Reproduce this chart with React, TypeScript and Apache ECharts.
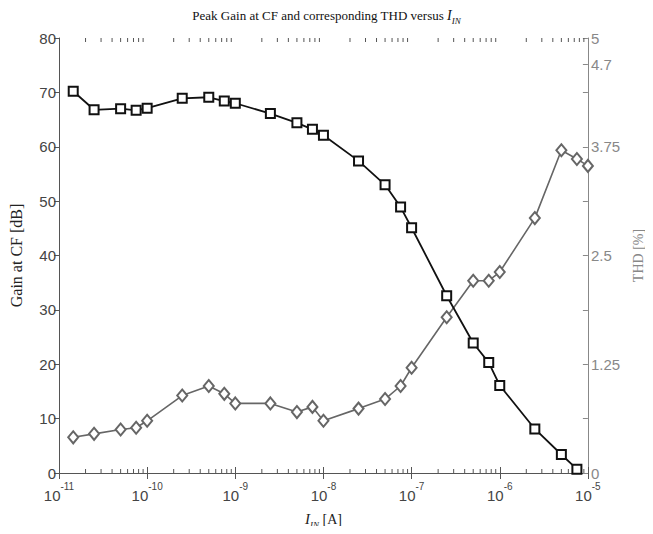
import React, { useEffect, useRef } from "react";
import * as echarts from "echarts";

// Input current I_IN [A]
const currentA = [
  1.45e-11, 2.5e-11, 5e-11, 7.5e-11, 1e-10, 2.5e-10, 5e-10, 7.5e-10, 1e-9, 2.5e-9, 5e-9, 7.5e-9,
  1e-8, 2.5e-8, 5e-8, 7.5e-8, 1e-7, 2.5e-7, 5e-7, 7.5e-7, 1e-6, 2.5e-6, 5e-6, 7.5e-6, 1e-5,
];
// Peak gain at CF [dB] (first 24 currents)
const gainDb = [
  70.2, 66.8, 67.0, 66.7, 67.1, 68.9, 69.1, 68.4, 68.0, 66.1, 64.4, 63.2,
  62.1, 57.4, 53.0, 48.9, 45.1, 32.6, 23.9, 20.3, 16.1, 8.1, 3.4, 0.7,
];
// THD [%]
const thdPct = [
  0.41, 0.45, 0.5, 0.52, 0.6, 0.89, 1.0, 0.91, 0.8, 0.8, 0.7, 0.76,
  0.6, 0.74, 0.85, 1.0, 1.21, 1.79, 2.21, 2.21, 2.31, 2.93, 3.71, 3.61, 3.53,
];
// x axis decades (exponents of 10)
const xDecades = [-11, -10, -9, -8, -7, -6, -5];
const minorMultipliers = [2, 3, 4, 5, 6, 7, 8, 9];
// right axis ticks / labels
const thdTickValues = [0, 0.625, 1.25, 1.875, 2.5, 3.125, 3.75, 4.375, 4.7, 5];
const thdLabelValues = [0, 1.25, 2.5, 3.75, 4.7, 5];

const SANS = "'Liberation Sans Narrow', 'Liberation Sans', Arial, sans-serif";
const SERIF = "'Liberation Serif', 'Times New Roman', serif";

export default function App() {
  const ref = useRef<HTMLDivElement>(null);
  useEffect(() => {
    if (!ref.current) return;
    const chart = echarts.init(ref.current, null, { renderer: "svg" });
    const minorTicks: number[][] = [];
    xDecades.slice(0, -1).forEach((d) => {
      minorMultipliers.forEach((m) => minorTicks.push([Math.log10(m * Math.pow(10, d)), 0]));
    });
    const xMin = xDecades[0];
    const xMax = xDecades[xDecades.length - 1];
    const axisGray = "#555";
    chart.setOption({
      animation: false,
      backgroundColor: "#fff",
      title: {
        left: "center",
        top: 0,
        text: "{n|Peak Gain at CF and corresponding THD versus }{i|I}{sub|IN}",
        textStyle: {
          fontFamily: SERIF,
          fontSize: 13,
          fontWeight: "normal",
          color: "#111",
          rich: {
            n: { fontFamily: SERIF, fontSize: 13, color: "#111", lineHeight: 20 },
            i: { fontFamily: SERIF, fontSize: 14, fontStyle: "italic", color: "#111", lineHeight: 20 },
            sub: {
              fontFamily: SERIF,
              fontSize: 9,
              fontStyle: "italic",
              color: "#111",
              lineHeight: 9,
              verticalAlign: "bottom",
            },
          },
        },
      },
      grid: { left: 52, right: 55, top: 38, bottom: 54, containLabel: false },
      xAxis: [
        {
          type: "value",
          min: xMin,
          max: xMax,
          interval: 1,
          position: "bottom",
          axisLine: { lineStyle: { color: axisGray, width: 1 } },
          axisTick: { inside: true, length: 6, lineStyle: { color: axisGray } },
          splitLine: { show: false },
          axisLabel: {
            margin: 8,
            formatter: (v: number) => `{b|10}{s|${v}}`,
            rich: {
              b: { fontFamily: SANS, fontSize: 15, color: "#444", lineHeight: 22, verticalAlign: "bottom" },
              s: { fontFamily: SANS, fontSize: 10, color: "#444", lineHeight: 12, verticalAlign: "top" },
            },
          },
          name: "{i|I}{sub|IN}{n| [A]}",
          nameLocation: "middle",
          nameGap: 36,
          nameTextStyle: {
            rich: {
              i: { fontFamily: SERIF, fontSize: 15, fontStyle: "italic", color: "#222", lineHeight: 20 },
              sub: {
                fontFamily: SERIF,
                fontSize: 9,
                fontStyle: "italic",
                color: "#222",
                lineHeight: 9,
                verticalAlign: "bottom",
              },
              n: { fontFamily: SERIF, fontSize: 14, color: "#222", lineHeight: 20 },
            },
          },
        },
        {
          type: "value",
          min: xMin,
          max: xMax,
          interval: 1,
          position: "top",
          axisLine: { lineStyle: { color: axisGray, width: 1 } },
          axisTick: { inside: true, length: 6, lineStyle: { color: axisGray } },
          axisLabel: { show: false },
          splitLine: { show: false },
        },
      ],
      yAxis: [
        {
          type: "value",
          min: 0,
          max: 80,
          interval: 10,
          position: "left",
          axisLine: { show: true, lineStyle: { color: axisGray, width: 1 } },
          axisTick: { show: true, inside: false, length: 5, lineStyle: { color: axisGray } },
          splitLine: { show: false },
          axisLabel: { fontFamily: SANS, fontSize: 15, color: "#444", margin: 3 },
          name: "Gain at CF [dB]",
          nameLocation: "middle",
          nameGap: 35,
          nameRotate: 90,
          nameTextStyle: { fontFamily: SERIF, fontSize: 16, color: "#222" },
        },
        {
          type: "value",
          min: 0,
          max: 5,
          position: "right",
          axisLine: { show: true, lineStyle: { color: "#888", width: 1 } },
          axisTick: {
            show: true,
            inside: true,
            length: 5,
            customValues: thdTickValues,
            lineStyle: { color: "#888" },
          },
          splitLine: { show: false },
          axisLabel: {
            fontFamily: SANS,
            fontSize: 15,
            color: "#888",
            margin: 3,
            customValues: thdLabelValues,
            formatter: (v: number) => String(v),
          },
          name: "THD [%]",
          nameLocation: "middle",
          nameGap: 41,
          nameRotate: 90,
          nameTextStyle: { fontFamily: SERIF, fontSize: 14, color: "#888" },
        },
      ],
      series: [
        {
          type: "custom",
          silent: true,
          xAxisIndex: 0,
          yAxisIndex: 0,
          clip: false,
          z: 1,
          data: minorTicks,
          renderItem: (params: any, api: any) => {
            const x = api.value(0);
            const bot = api.coord([x, 0]);
            const top = api.coord([x, 80]);
            return {
              type: "group",
              children: [
                {
                  type: "line",
                  shape: { x1: bot[0], y1: bot[1], x2: bot[0], y2: bot[1] - 4 },
                  style: { stroke: axisGray, lineWidth: 1 },
                },
                {
                  type: "line",
                  shape: { x1: top[0], y1: top[1], x2: top[0], y2: top[1] + 4 },
                  style: { stroke: axisGray, lineWidth: 1 },
                },
              ],
            };
          },
        },
        {
          name: "THD",
          type: "line",
          xAxisIndex: 0,
          yAxisIndex: 1,
          data: currentA.map((c, i) => [Math.log10(c), thdPct[i]]),
          symbol: "emptyDiamond",
          symbolSize: [10, 12],
          lineStyle: { color: "#666", width: 1.6 },
          itemStyle: { color: "#666", borderWidth: 1.6 },
          z: 3,
        },
        {
          name: "Gain",
          type: "line",
          xAxisIndex: 0,
          yAxisIndex: 0,
          data: gainDb.map((g, i) => [Math.log10(currentA[i]), g]),
          symbol: "emptyRect",
          symbolSize: 9,
          lineStyle: { color: "#111", width: 1.8 },
          itemStyle: { color: "#111", borderWidth: 1.8 },
          z: 4,
        },
      ],
    });
    return () => chart.dispose();
  }, []);
  return <div ref={ref} style={{ width: 653, height: 534, margin: -8 }} />;
}
